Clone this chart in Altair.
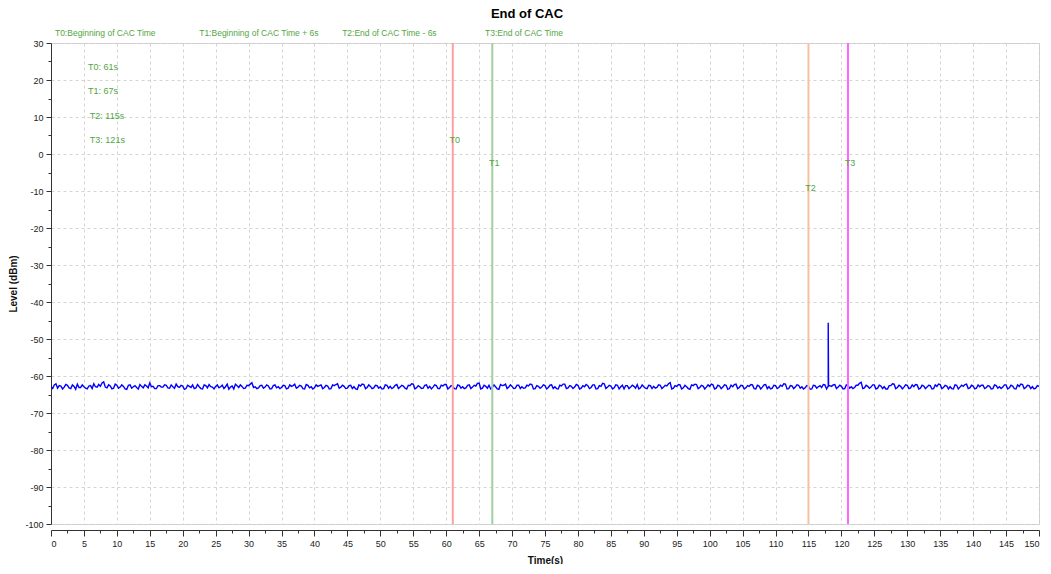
import altair as alt
import pandas as pd

# ---------------- data ----------------
# level samples at 0.0, 0.5, 1.0 ... 150.0 s
level_dbm = [
    -62.9, -62.4, -63.3, -62.7, -63.0, -62.5, -63.4, -62.8, -62.2, -63.1, -62.9, -63.5, -62.6, -62.1, -63.0, -62.8, -61.6, -63.2, -62.7, -63.3,
    -62.5, -63.0, -62.8, -63.6, -62.4, -62.9, -63.1, -62.3, -63.2, -62.7, -61.9, -62.8, -63.4, -62.6, -63.0, -62.5, -63.3, -62.9, -62.2, -63.1,
    -62.7, -63.4, -62.8, -62.4, -63.2, -62.9, -63.5, -62.6, -62.3, -63.0, -62.8, -63.2, -62.5, -62.9, -63.6, -62.7, -62.2, -63.1, -62.8, -63.3,
    -62.6, -61.8, -62.9, -63.2, -62.5, -63.0, -62.7, -63.4, -62.4, -62.9, -63.1, -62.6, -63.3, -62.8, -62.2, -63.0, -62.7, -63.5, -62.5, -62.9,
    -63.2, -62.8, -62.4, -63.1, -62.7, -63.4, -62.6, -62.1, -63.0, -62.8, -63.3, -62.5, -62.9, -63.6, -62.7, -62.3, -63.1, -62.8, -63.2, -62.6,
    -62.9, -63.4, -62.5, -62.8, -63.1, -62.3, -63.0, -62.7, -63.5, -62.6, -62.2, -63.2, -62.9, -63.3, -62.4, -62.8, -63.0, -62.6, -63.4, -62.7,
    -62.3, -63.1, -62.8, -63.5, -62.6, -62.9, -63.2, -62.4, -63.0, -62.7, -61.9, -63.3, -62.8, -62.5, -63.1, -62.9, -63.6, -62.6, -62.2, -63.0,
    -62.8, -63.3, -62.5, -62.9, -63.2, -62.7, -62.3, -63.4, -62.8, -63.0, -62.6, -63.1, -62.4, -62.9, -63.5, -62.7, -62.2, -63.2, -62.8, -63.0,
    -62.5, -63.3, -62.9, -62.6, -63.1, -62.4, -63.4, -62.8, -62.1, -63.0, -62.7, -63.2, -62.5, -62.9, -63.5, -62.6, -63.0, -62.8, -62.3, -63.2,
    -62.9, -63.4, -62.6, -62.8, -63.1, -62.5, -63.0, -62.7, -61.8, -63.3, -62.8, -62.4, -63.2, -62.9, -63.6, -62.6, -62.3, -63.1, -62.7, -63.0,
    -62.8, -62.4, -63.3, -62.7, -63.0, -62.5, -63.4, -62.9, -62.2, -63.1, -62.6, -63.2, -62.8, -62.4, -63.5, -62.7, -63.0, -62.3, -62.9, -63.3,
    -62.6, -63.1, -62.8, -62.2, -63.4, -62.7, -63.0, -62.5, -62.9, -63.2, -62.7, -63.5, -62.6, -62.9, -63.1, -62.4, -62.8, -62.8, -62.3, -63.0,
    -62.8, -63.4, -62.6, -62.9, -63.1, -62.5, -61.7, -63.2, -62.8, -63.0, -62.4, -63.3, -62.7, -62.9, -63.5, -62.6, -62.2, -63.1, -62.8, -63.0,
    -62.5, -63.2, -62.9, -62.4, -63.3, -62.7, -63.0, -62.6, -63.4, -62.8, -62.3, -63.1, -62.7, -62.9, -63.5, -62.5, -63.0, -62.8, -62.2, -63.2,
    -62.7, -63.3, -62.9, -62.5, -63.1, -62.8, -63.4, -62.6, -62.9, -63.0, -62.4, -63.2, -62.7, -63.5, -62.8, -62.3, -63.1, -62.6, -62.9, -63.3,
    -62.8,
]
# level samples at 0.25, 0.75 ... 149.75 s
level_mid_dbm = [
    -63.4, -62.1, -62.6, -63.5, -62.3, -63.2, -62.4, -63.6, -63.1, -62.4, -63.3, -62.7, -63.4, -62.9, -62.3, -61.9, -63.0, -62.4, -63.5, -62.2,
    -63.3, -62.4, -63.5, -62.5, -63.3, -62.6, -63.5, -62.8, -62.4, -63.2, -62.9, -63.4, -62.6, -63.0, -62.4, -63.2, -62.4, -63.3, -62.9, -62.5,
    -63.6, -62.5, -63.1, -63.4, -62.3, -63.4, -62.4, -63.2, -62.9, -63.5, -62.4, -62.9, -63.4, -62.2, -63.0, -63.5, -62.6, -62.4, -63.4, -62.5,
    -62.2, -63.1, -63.4, -62.6, -63.3, -62.4, -63.5, -62.6, -63.2, -63.4, -62.5, -63.5, -62.4, -62.6, -63.3, -62.5, -63.4, -62.3, -63.2, -63.5,
    -62.4, -62.6, -63.4, -62.5, -63.5, -62.4, -62.3, -63.3, -62.5, -63.4, -62.6, -63.4, -63.5, -62.4, -62.2, -63.4, -62.4, -63.4, -62.5, -63.3,
    -63.5, -62.4, -63.3, -63.4, -62.5, -63.4, -62.5, -63.3, -62.5, -62.1, -63.5, -62.6, -63.4, -62.5, -63.3, -63.5, -62.4, -63.4, -62.5, -62.3,
    -63.5, -62.6, -63.4, -62.4, -63.3, -63.4, -62.5, -63.4, -62.5, -62.0, -63.5, -62.5, -63.3, -63.5, -62.4, -63.5, -62.3, -62.5, -63.4, -62.4,
    -63.4, -62.5, -63.4, -63.3, -62.5, -62.2, -63.5, -62.6, -63.3, -62.4, -63.5, -62.5, -63.4, -63.4, -62.5, -62.2, -63.4, -62.6, -63.4, -62.3,
    -63.5, -62.6, -62.3, -63.4, -62.4, -63.5, -62.6, -62.0, -63.4, -62.5, -63.5, -62.4, -63.5, -62.5, -62.6, -63.4, -62.5, -63.3, -63.5, -62.4,
    -63.3, -62.5, -63.4, -63.3, -62.4, -63.4, -62.5, -62.1, -63.5, -62.6, -62.3, -63.5, -62.5, -63.4, -62.4, -62.2, -63.4, -62.5, -63.5, -62.4,
    -62.2, -63.5, -62.5, -63.4, -62.4, -63.6, -62.5, -62.3, -63.4, -62.5, -63.5, -62.6, -62.3, -63.4, -62.5, -63.5, -62.4, -63.4, -63.5, -62.5,
    -63.4, -62.5, -62.1, -63.5, -62.6, -63.4, -62.4, -63.3, -63.5, -62.6, -63.6, -62.5, -63.3, -62.6, -62.3, -63.5, -62.6, -62.4, -63.4, -62.5,
    -63.5, -62.4, -63.3, -63.4, -62.5, -62.0, -63.4, -62.5, -63.3, -62.4, -63.5, -62.5, -63.4, -63.5, -62.6, -62.1, -63.4, -62.5, -63.5, -62.4,
    -63.4, -62.4, -62.3, -63.5, -62.5, -63.4, -62.5, -63.5, -62.4, -62.2, -63.4, -62.5, -63.5, -63.4, -62.4, -63.5, -62.5, -62.3, -63.4, -62.5,
    -63.5, -62.4, -62.5, -63.4, -62.6, -63.5, -62.4, -63.3, -63.4, -62.4, -63.5, -62.5, -63.4, -62.4, -62.2, -63.4, -62.5, -63.4, -63.5, -62.6,
]
time_s = [i * 0.5 for i in range(len(level_dbm))]
time_mid_s = [i * 0.5 + 0.25 for i in range(len(level_mid_dbm))]

# single spike burst near 118 s
spike_time = [117.95, 118.0, 118.05]
spike_level = [-62.9, -45.6, -62.7]

marker_names = ["T0", "T1", "T2", "T3"]
marker_times = [61, 67, 115, 121]
marker_label_level = [3.8, -2.4, -9.2, -2.4]
marker_colors = ["#ffa0a0", "#a0d0a0", "#f8c0a0", "#ff66ff"]

info_texts = ["T0: 61s", "T1: 67s", "T2: 115s", "T3: 121s"]
info_time = [5.6, 5.6, 5.9, 5.9]
info_level = [23.5, 17.0, 10.3, 3.8]

legend_texts = ["T0:Beginning of CAC Time", "T1:Beginning of CAC Time + 6s",
                "T2:End of CAC Time - 6s", "T3:End of CAC Time"]
legend_time = [0.6, 22.5, 44.2, 65.9]

chart_title = ["End of CAC"]

x_major = list(range(0, 151, 5))
x_minor = [v + 2.5 for v in range(0, 150, 5)]
y_major = list(range(-100, 31, 10))
y_minor = [v + 5 for v in range(-100, 30, 10)]

# ---------------- frames ----------------
sig = pd.DataFrame({"t": time_s + time_mid_s + spike_time,
                    "lvl": level_dbm + level_mid_dbm + spike_level}).sort_values("t").reset_index(drop=True)
sig["order"] = range(len(sig))
markers = pd.DataFrame({"name": marker_names, "t": marker_times, "lbl": marker_label_level})
info = pd.DataFrame({"txt": info_texts, "t": info_time, "lvl": info_level})
leg = pd.DataFrame({"txt": legend_texts, "t": legend_time})
ttl = pd.DataFrame({"txt": chart_title})

FONT = "Liberation Sans, Arial, sans-serif"
GREEN = "#53a543"

xs = alt.Scale(domain=[0, 150], nice=False, zero=False)
ys = alt.Scale(domain=[-100, 30], nice=False, zero=False)

main = alt.Chart(sig).mark_line(color="#0000ff", strokeWidth=1.4, clip=True).encode(
    x=alt.X("t:Q", scale=xs, axis=alt.Axis(values=x_major, title="Time(s)", orient="bottom",
            offset=6, tickSize=6, grid=True, labelExpr="'' + datum.value",
            titleFontWeight="bold", titlePadding=7, titleFontSize=10)),
    y=alt.Y("lvl:Q", scale=ys, axis=alt.Axis(values=y_major, title="Level (dBm)", orient="left",
            tickSize=5, grid=True, labelExpr="'' + datum.value",
            titleFontWeight="bold", titlePadding=6, titleFontSize=10)),
    order="order:Q",
)

minor = alt.Chart(sig).mark_point(opacity=0).encode(
    x=alt.X("t:Q", scale=xs, axis=alt.Axis(values=x_minor, labels=False, title=None,
            orient="bottom", offset=6, tickSize=3, grid=False, domain=False)),
    y=alt.Y("lvl:Q", scale=ys, axis=alt.Axis(values=y_minor, labels=False, title=None,
            orient="left", tickSize=3, grid=False, domain=False)),
)

rules = alt.Chart(markers).mark_rule().encode(
    x=alt.X("t:Q", scale=xs, axis=None),
    color=alt.Color("name:N", scale=alt.Scale(domain=marker_names, range=marker_colors), legend=None),
    strokeWidth=alt.StrokeWidth("name:N", scale=alt.Scale(domain=marker_names, range=[2, 2, 2, 1.5]),
                                legend=None),
)

rule_labels = alt.Chart(markers).mark_text(font=FONT, fontSize=9, color=GREEN, dx=2,
                                           align="center", baseline="middle").encode(
    x=alt.X("t:Q", scale=xs, axis=None),
    y=alt.Y("lbl:Q", scale=ys, axis=None),
    text="name:N",
)

info_layer = alt.Chart(info).mark_text(font=FONT, fontSize=9, color=GREEN, align="left",
                                       baseline="middle").encode(
    x=alt.X("t:Q", scale=xs, axis=None),
    y=alt.Y("lvl:Q", scale=ys, axis=None),
    text="txt:N",
)

legend_layer = alt.Chart(leg).mark_text(font=FONT, fontSize=8.5, color=GREEN, align="left",
                                        baseline="middle").encode(
    x=alt.X("t:Q", scale=xs, axis=None),
    y=alt.value(-10),
    text="txt:N",
)

title_layer = alt.Chart(ttl).mark_text(font=FONT, fontSize=13, fontWeight="bold", color="#000000",
                                       align="center", baseline="middle").encode(
    x=alt.value(476),
    y=alt.value(-29),
    text="txt:N",
)

chart = alt.layer(main, minor, rules, rule_labels, info_layer, legend_layer, title_layer).resolve_axis(
    x="independent", y="independent"
).properties(
    width=988,
    height=481,
    autosize=alt.AutoSizeParams(type="none"),
    padding={"left": 43, "top": 35, "right": 4, "bottom": 40},
).configure_view(
    stroke="#cccccc", strokeWidth=1
).configure_axis(
    labelFont=FONT, titleFont=FONT, labelFontSize=9, labelColor="#222222",
    titleColor="#111111", domainColor="#333333", tickColor="#333333",
    gridColor="#d4d4d4", gridDash=[3, 3], gridWidth=1, labelPadding=3,
)

chart.save("out.html", embed_options={"renderer": "svg", "actions": False})
